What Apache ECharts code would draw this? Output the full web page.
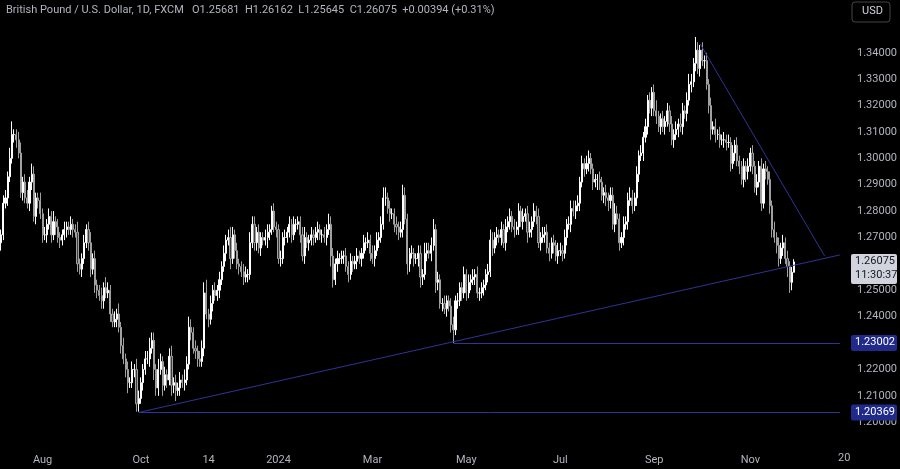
<!DOCTYPE html>
<html><head><meta charset="utf-8">
<script src="https://cdn.jsdelivr.net/npm/echarts@6/dist/echarts.min.js"></script>
<style>html,body{margin:0;background:#000;}#c{width:900px;height:469px;}</style>
</head><body><div id="c"></div>
<script>
// daily closes, Jul 6 2023 .. Nov 26 2024
const closes = [1.271,1.283,
1.285,1.293,1.300,1.309,1.309, 1.307,1.302,1.287,1.291,1.285, 1.283,1.291,1.294,1.278,1.285, 1.284,1.279,1.271,1.271,1.275,
1.278,1.271,1.276,1.274,1.270, 1.269,1.271,1.273,1.274,1.273, 1.275,1.273,1.272,1.260,1.258, 1.262,1.268,1.273,1.268,1.258,
1.262,1.252,1.250,1.248,1.246, 1.251,1.249,1.250,1.241,1.238, 1.239,1.241,1.236,1.229,1.224, 1.220,1.215,1.215,1.220,1.220,
1.207,1.209,1.215,1.220,1.224, 1.224,1.228,1.231,1.220,1.213, 1.220,1.223,1.214,1.218,1.216, 1.225,1.214,1.215,1.212,1.213,
1.216,1.215,1.216,1.222,1.236, 1.234,1.228,1.227,1.224,1.223, 1.228,1.249,1.241,1.239,1.245, 1.250,1.248,1.250,1.254,1.259,
1.264,1.269,1.270,1.262,1.271, 1.265,1.260,1.259,1.257,1.255, 1.256,1.256,1.268,1.275,1.268, 1.272,1.266,1.270,1.269,1.270,
1.272,1.273,1.280,1.274,1.273, 1.262,1.262,1.270,1.270,1.272, 1.275,1.271,1.275,1.275,1.276, 1.271,1.263,1.270,1.268,1.269,
1.271,1.270,1.272,1.273,1.271, 1.271,1.270,1.273,1.275,1.263, 1.254,1.260,1.262,1.262,1.263, 1.263,1.259,1.256,1.261,1.260,
1.261,1.263,1.262,1.264,1.268, 1.268,1.269,1.264,1.262,1.265, 1.269,1.270,1.275,1.285,1.285, 1.281,1.279,1.279,1.275,1.274,
1.272,1.273,1.286,1.277,1.260, 1.264,1.264,1.262,1.262,1.264, 1.255,1.256,1.264,1.265,1.264, 1.267,1.273,1.253,1.254,1.245,
1.245,1.243,1.246,1.244,1.237, 1.235,1.246,1.246,1.251,1.249, 1.256,1.249,1.253,1.254,1.255, 1.256,1.249,1.249,1.251,1.252,
1.256,1.257,1.269,1.266,1.270, 1.271,1.270,1.273,1.268,1.274, 1.276,1.278,1.274,1.273,1.274, 1.280,1.276,1.278,1.279,1.272,
1.273,1.276,1.280,1.278,1.268, 1.270,1.271,1.272,1.266,1.264, 1.268,1.267,1.263,1.265,1.265, 1.264,1.270,1.275,1.275,1.281,
1.280,1.282,1.283,1.291,1.298, 1.296,1.298,1.300,1.296,1.291, 1.292,1.292,1.291,1.286,1.287, 1.285,1.284,1.286,1.275,1.279,
1.277,1.268,1.270,1.275,1.276, 1.284,1.285,1.282,1.285,1.294, 1.301,1.302,1.308,1.312,1.322, 1.319,1.325,1.318,1.316,1.312,
1.315,1.312,1.314,1.318,1.313, 1.307,1.309,1.311,1.313,1.312, 1.318,1.317,1.322,1.328,1.329, 1.336,1.341,1.334,1.341,1.337,
1.337,1.328,1.320,1.311,1.312, 1.309,1.309,1.307,1.307,1.307, 1.306,1.306,1.298,1.302,1.305, 1.299,1.297,1.292,1.297,1.295,
1.297,1.302,1.297,1.289,1.291, 1.297,1.283,1.296,1.295,1.292, 1.282,1.273,1.270,1.267,1.262, 1.266,1.268,1.262,1.259,1.253,
1.2568,1.26075];
const firstOpen = 1.268;
// wick lengths in 0.001 above max(open,close) / below min(open,close)
const wickUp = [2,3, 3,2,4,5,2, 2,3,4,2,3, 3,2,4,3,2, 2,3,2,3,2, 3,2,4,2,3, 2,2,3,2,2, 3,2,2,4,2, 2,3,2,3,4,
2,3,2,2,3, 2,4,3,2,2, 3,2,4,2,3, 2,3,2,3,2, 4,3,2,2,3, 3,4,3,3,2, 4,3,2,3,2, 3,4,2,3,2,
3,2,4,3,4, 3,2,3,2,3, 3,4,5,2,3, 2,3,2,3,2, 3,2,3,4,3, 2,3,2,2,3, 3,2,4,3,3, 2,3,2,2,3,
3,2,2,3,2, 2,3,2,3,2, 3,2,3,2,2, 2,3,4,2,2, 3,2,2,3,2, 2,3,2,4,3, 3,2,3,2,2, 2,3,2,3,2,
2,3,2,2,3, 2,3,2,3,2, 3,2,3,4,4, 2,3,2,2,3, 2,3,4,3,2, 2,3,2,2,3, 3,2,4,3,3, 3,4,2,3,2,
2,3,2,2,3, 3,2,3,2,2, 3,2,3,2,3, 2,3,2,2,2, 2,3,4,3,2, 3,2,3,2,3, 2,3,2,3,2, 3,2,3,2,3,
3,2,3,2,3, 2,3,2,3,2, 2,3,2,3,3, 2,3,2,3,3, 3,2,3,2,3, 2,3,3,2,2, 2,2,3,2,2, 3,2,3,3,4,
3,2,2,3,2, 3,4,3,2,3, 2,3,2,3,2, 3,2,3,4,2, 2,3,2,3,2, 3,2,3,2,4, 3,2,3,4,3, 2,5,3,2,3,
2,3,2,3,2, 3,2,3,2,3, 2,3,2,3,2, 3,2,2,3,2, 3,2,3,2,3, 2,3,2,3,2, 3,2,3,2,3, 2,3,2,3,2,
2,1];
const wickDn = [3,2, 2,3,2,2,3, 3,2,2,3,2, 2,3,3,2,3, 3,2,3,2,3, 2,3,2,3,2, 3,2,2,3,2, 2,3,2,3,2, 3,2,2,3,3,
2,3,3,2,3, 3,2,2,3,2, 2,3,2,3,2, 3,4,2,2,3, 3,3,2,3,2, 2,3,2,4,3, 3,2,4,2,3, 2,4,3,4,2,
3,2,3,2,2, 3,2,3,3,2, 2,3,2,3,2, 3,2,2,3,2, 2,3,2,4,2, 3,2,3,2,3, 2,3,2,2,3, 3,2,3,2,2,
4,3,2,2,3, 2,3,2,3,2, 2,3,2,3,2, 3,2,3,2,3, 2,3,2,3,2, 3,2,3,2,4, 3,2,3,2,2, 3,2,3,2,3,
2,3,2,3,2, 3,2,3,2,3, 2,3,2,2,3, 2,3,2,3,3, 3,2,3,2,4, 3,2,3,2,3, 4,3,2,3,2, 3,2,4,3,2,
3,2,3,2,3, 5,2,3,2,3, 2,3,2,3,2, 3,2,3,2,3, 2,3,2,3,2, 3,2,3,2,3, 2,3,2,3,2, 3,2,3,2,4,
2,3,2,3,2, 3,2,3,2,3, 2,3,2,3,2, 3,2,3,2,3, 2,3,2,3,2, 3,2,3,2,3, 2,4,3,2,3, 3,4,3,2,3,
2,3,2,3,2, 3,2,3,2,3, 3,2,3,2,3, 2,3,2,3,2, 3,2,3,2,3, 2,3,2,3,2, 3,2,3,2,3, 2,3,2,3,2,
3,2,3,4,2, 3,2,3,2,3, 3,2,3,2,3, 2,3,2,3,4, 3,2,3,2,3, 2,3,2,3,2, 3,3,2,3,3, 2,3,2,4,4,
3,0];
const monthLabels = [[19,'Aug'],[64,'Oct'],[95,'14'],[127,'2024'],[170,'Mar'],[213,'May'],[256,'Jul'],[299,'Sep'],[343,'Nov']];
const levels = [1.23002, 1.20369];
const lastPrice = 1.26075;
const header = 'British Pound / U.S. Dollar, 1D, FXCM   O1.25681  H1.26162  L1.25645  C1.26075  +0.00394 (+0.31%)';

const N = closes.length, PAD = 21;
const cats = []; for (let i = 0; i < N + PAD; i++) cats.push(String(i));
const ohlc = closes.map((c, i) => {
  const o = i === 0 ? firstOpen : (i === N - 1 ? 1.25681 : closes[i - 1]);
  const hi = Math.max(o, c) + (wickUp[i] ?? 2) * 0.001;
  const lo = Math.min(o, c) - (wickDn[i] ?? 2) * 0.001;
  return [o, c, lo, hi];
});
const labelMap = Object.fromEntries(monthLabels);
const lineC = '#2e3596';
const chart = echarts.init(document.getElementById('c'));
chart.setOption({
  backgroundColor: '#000',
  animation: false,
  grid: { left: 0, right: 58, top: -3, bottom: 20.4 },
  xAxis: { type: 'category', data: cats, boundaryGap: true,
    axisLine: { show: false }, axisTick: { show: false }, splitLine: { show: false },
    axisLabel: { interval: (i) => labelMap[i] !== undefined, formatter: (v) => labelMap[v] || '',
      color: '#b2b5be', fontSize: 11, fontFamily: 'Roboto', margin: 6 } },
  yAxis: { type: 'value', position: 'right', min: 1.19, max: 1.36, interval: 0.01, scale: true,
    axisLine: { show: false }, axisTick: { show: false }, splitLine: { show: false },
    axisLabel: { color: '#b2b5be', fontSize: 11, fontFamily: 'Roboto', margin: 16,
      formatter: (v) => (v < 1.195 || v > 1.345) ? '' : v.toFixed(5) } },
  series: [{
    type: 'candlestick', data: ohlc, barWidth: 1.6,
    itemStyle: { color: '#ffffff', color0: '#3c3c3c', borderColor: '#ffffff', borderColor0: '#a0a0a0', borderWidth: 1 },
    markLine: { symbol: 'none', silent: true, label: { show: false },
      lineStyle: { color: lineC, width: 1, type: 'solid' },
      data: [
        [{ coord: [63, 1.2037] }, { coord: [384, 1.2634] }],
        [{ coord: [320, 1.3434] }, { coord: [377, 1.2630] }],
        [{ coord: [207, levels[0]] }, { coord: [N + PAD - 1, levels[0]] }],
        [{ coord: [63, levels[1]] }, { coord: [N + PAD - 1, levels[1]] }]
      ] }
  }]
});
const gx = (p) => chart.convertToPixel({ yAxisIndex: 0 }, p);
const Z = 100;
const g = [
  { type: 'text', z: Z, left: 6, top: 5, style: { text: header, fill: '#b2b5be', font: '11px Roboto' } },
  { type: 'rect', z: Z, shape: { x: 852, y: 2, width: 38, height: 20, r: 3 }, style: { fill: '#000', stroke: '#444' } },
  { type: 'text', z: Z + 1, x: 862, y: 6, style: { text: 'USD', fill: '#d1d4dc', font: '11px Roboto' } },
  { type: 'text', z: Z, x: 838, y: 453, style: { text: '20', fill: '#b2b5be', font: '11px Roboto' } }
];
levels.forEach((lv) => {
  const y = gx(lv);
  g.push({ type: 'rect', z: Z, shape: { x: 851, y: y - 8, width: 46, height: 16, r: 2 }, style: { fill: '#1f2a8a' } });
  g.push({ type: 'text', z: Z + 1, x: 855, y: y - 6, style: { text: lv.toFixed(5), fill: '#fff', font: '11px Roboto' } });
});
const ly = gx(lastPrice);
g.push({ type: 'rect', z: Z, shape: { x: 851, y: ly - 8, width: 46, height: 30, r: 2 }, style: { fill: '#d1d4dc' } });
g.push({ type: 'text', z: Z + 1, x: 855, y: ly - 6, style: { text: lastPrice.toFixed(5), fill: '#131722', font: '11px Roboto' } });
g.push({ type: 'text', z: Z + 1, x: 855, y: ly + 8, style: { text: '11:30:37', fill: '#131722', font: '11px Roboto' } });
chart.setOption({ graphic: g });
</script></body></html>
